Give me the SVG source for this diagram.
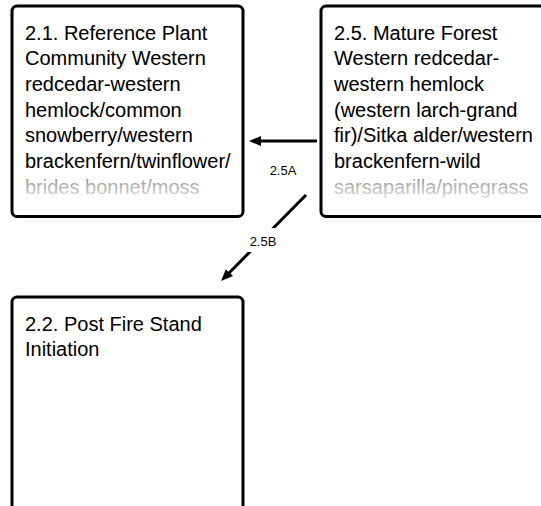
<svg xmlns="http://www.w3.org/2000/svg" width="541" height="506" viewBox="0 0 541 506">
  <defs>
    <style>
      .box { fill: #ffffff; stroke: #000000; stroke-width: 3; }
      .t { font-family: "Liberation Sans", Arial, sans-serif; font-size: 20px; }
      .fade { fill: url(#fadeGrad); }
      .solid { fill: #000000; }
      .lbl { font-family: "Liberation Sans", Arial, sans-serif; font-size: 13px; text-anchor: middle; fill: #000000; }
      .conn { stroke: #000000; stroke-width: 3; fill: none; marker-end: url(#ah); }
    </style>
    <linearGradient id="fadeGrad" gradientUnits="userSpaceOnUse" x1="0" y1="170" x2="0" y2="200">
      <stop offset="0" stop-color="#000000"/>
      <stop offset="0.2" stop-color="#000000"/>
      <stop offset="0.21" stop-color="#8c8c8c"/>
      <stop offset="1" stop-color="#e6e6e6"/>
    </linearGradient>
    <marker id="ah" markerUnits="userSpaceOnUse" markerWidth="12" markerHeight="10" refX="1" refY="5" orient="auto" viewBox="0 0 12 10">
      <path d="M0,0 L12,5 L0,10 Z" fill="#000000"/>
    </marker>
  </defs>

  <g id="node-2-1">
    <rect class="box" x="12" y="6" width="231" height="210.5" rx="5" ry="5"/>
    <text class="t fade" x="25">
      <tspan x="25" y="39.5">2.1. Reference Plant</tspan>
      <tspan x="25" y="65.2">Community Western</tspan>
      <tspan x="25" y="90.9">redcedar-western</tspan>
      <tspan x="25" y="116.6">hemlock/common</tspan>
      <tspan x="25" y="142.3">snowberry/western</tspan>
      <tspan x="25" y="168">brackenfern/twinflower/</tspan>
      <tspan x="25" y="193.7">brides bonnet/moss</tspan>
    </text>
  </g>

  <g id="node-2-5">
    <rect class="box" x="321" y="6" width="231" height="210.5" rx="5" ry="5"/>
    <text class="t fade" x="334">
      <tspan x="334" y="39.5">2.5. Mature Forest</tspan>
      <tspan x="334" y="65.2">Western redcedar-</tspan>
      <tspan x="334" y="90.9">western hemlock</tspan>
      <tspan x="334" y="116.6">(western larch-grand</tspan>
      <tspan x="334" y="142.3">fir)/Sitka alder/western</tspan>
      <tspan x="334" y="168">brackenfern-wild</tspan>
      <tspan x="334" y="193.7">sarsaparilla/pinegrass</tspan>
    </text>
  </g>

  <g id="node-2-2">
    <rect class="box" x="12" y="297" width="231" height="300" rx="5" ry="5"/>
    <text class="t solid" x="25">
      <tspan x="25" y="330.5">2.2. Post Fire Stand</tspan>
      <tspan x="25" y="356.2">Initiation</tspan>
    </text>
  </g>

  <g id="connectors">
    <g id="edge-2-5A">
      <path class="conn" d="M317,141 L260,141"/>
      <text class="lbl" x="283" y="175">2.5A</text>
    </g>
    <g id="edge-2-5B">
      <path class="conn" d="M306,195 L228.8,273.2"/>
      <rect x="247" y="228" width="32" height="24" fill="#ffffff"/>
      <text class="lbl" x="263" y="246">2.5B</text>
    </g>
  </g>
</svg>
